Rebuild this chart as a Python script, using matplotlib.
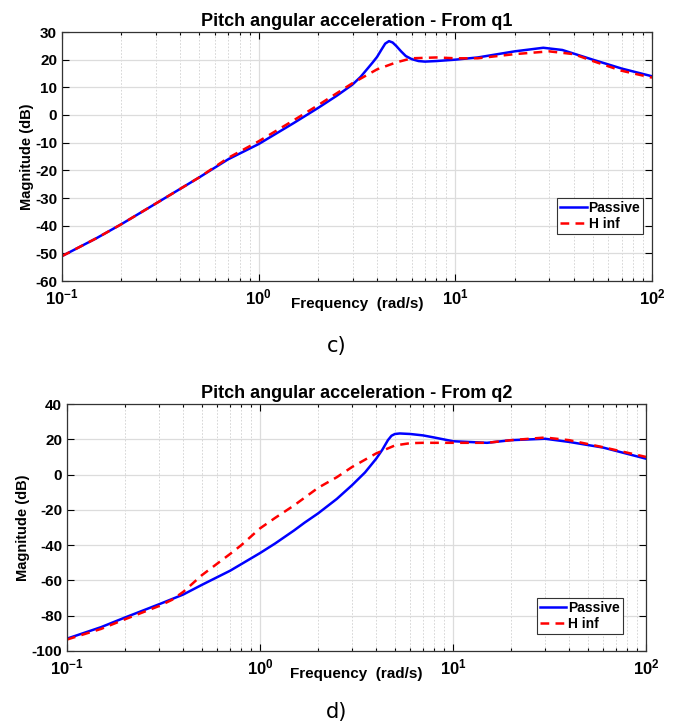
import numpy as np
import matplotlib
matplotlib.use("Agg")
import matplotlib.pyplot as plt
from matplotlib.ticker import LogLocator, NullFormatter, FuncFormatter

# --- donnees ---
freq_q1 = [0.1, 0.15, 0.2, 0.3, 0.5, 0.7, 1.0, 1.5, 2.0, 2.5, 3.0, 3.3, 3.6, 3.8, 4.0,
           4.2, 4.4, 4.6, 4.8, 5.0, 5.3, 5.6, 6.0, 6.5, 7.0, 8.0, 10, 13, 20, 28, 35, 50,
           70, 100]
passive_q1 = [-51, -44.5, -39.5, -32, -22.5, -16, -10.5, -3, 2.5, 7, 11, 13.8, 17, 19, 21,
              23.5, 25.8, 26.7, 26.2, 25, 23, 21.3, 20.2, 19.5, 19.3, 19.5, 20, 20.8, 23,
              24.3, 23.5, 20, 16.8, 14]
freq_hinf_q1 = [0.1, 0.15, 0.2, 0.3, 0.5, 0.7, 1.0, 1.5, 2.0, 3.0, 4.0, 5.0, 6.0, 8.0,
                10, 13, 20, 30, 40, 50, 70, 100]
hinf_q1 = [-51, -44.5, -39.5, -32, -22.5, -15.5, -9.5, -2, 3.5, 11.5, 16.5, 19, 20.5,
           20.8, 20.5, 20.5, 22, 23, 22, 19.5, 16, 13.5]

freq_q2 = [0.1, 0.15, 0.2, 0.3, 0.4, 0.5, 0.7, 1.0, 1.2, 1.5, 1.7, 2.0, 2.5, 3.0, 3.5,
           3.8, 4.0, 4.3, 4.6, 4.8, 5.0, 5.3, 6.0, 7.0, 8.0, 10, 15, 20, 30, 40, 60, 100]
passive_q2 = [-93, -86.5, -81, -73.5, -68, -62.5, -54.5, -44.5, -39, -31.7, -27.3, -22,
              -13.8, -6, 1.2, 6, 9, 14, 19.5, 22, 23, 23.3, 23, 22.2, 21, 18.9, 18, 19.5,
              20.3, 18.5, 15.3, 9]
freq_hinf_q2 = [0.1, 0.15, 0.2, 0.3, 0.35, 0.4, 0.45, 0.5, 0.6, 0.7, 0.8, 0.9, 1.0, 1.2,
                1.5, 2.0, 2.5, 3.0, 4.0, 5.0, 6.0, 7.0, 10, 15, 20, 30, 40, 60, 100]
hinf_q2 = [-93.5, -87.5, -82, -74.5, -71, -66.5, -61.5, -57, -50.5, -45, -40, -35,
           -30.5, -24.5, -17.5, -7.5, -1.5, 4.3, 12, 16.5, 17.8, 18, 18, 18, 19.5, 21,
           19.5, 15.5, 10]

titles = ["Pitch angular acceleration - From q1", "Pitch angular acceleration - From q2"]
ylims = [(-60, 30), (-100, 40)]
ysteps = [10, 20]
panel_labels = ["c)", "d)"]

plt.rcParams['font.family'] = ['Liberation Sans', 'DejaVu Sans']
plt.rcParams['axes.unicode_minus'] = False
plt.rcParams['mathtext.fontset'] = 'custom'
plt.rcParams['mathtext.rm'] = 'Liberation Sans:bold'
plt.rcParams['mathtext.bf'] = 'Liberation Sans:bold'
plt.rcParams['mathtext.default'] = 'bf'

fig = plt.figure(figsize=(6.75, 7.26), dpi=100)
W, H = 675.0, 726.0
# positions en pixels (gauche, droite, haut, bas)
boxes = [(62, 652, 32, 281), (67, 646, 404, 651)]

data = [(freq_q1, passive_q1, freq_hinf_q1, hinf_q1),
        (freq_q2, passive_q2, freq_hinf_q2, hinf_q2)]

dec_fmt = FuncFormatter(lambda v, pos: r'$10^{%d}$' % int(round(np.log10(v))))

for i, (l, r, t, b) in enumerate(boxes):
    ax = fig.add_axes([l / W, 1 - b / H, (r - l) / W, (b - t) / H])
    fp, p, fh, h = data[i]
    ax.semilogx(fp, p, color='#0000ff', lw=1.8, label='Passive')
    ax.semilogx(fh, h, color='#ff0000', lw=1.8, ls=(0, (3.5, 2.5)), label='H inf')
    ax.set_xlim(0.1, 100)
    ax.set_ylim(*ylims[i])
    ax.set_yticks(np.arange(ylims[i][0], ylims[i][1] + 1, ysteps[i]))
    ax.xaxis.set_major_locator(LogLocator(base=10, numticks=10))
    ax.xaxis.set_major_formatter(dec_fmt)
    ax.xaxis.set_minor_locator(LogLocator(base=10, subs=np.arange(2, 10), numticks=100))
    ax.xaxis.set_minor_formatter(NullFormatter())
    ax.grid(True, which='major', axis='both', color='#dcdcdc', lw=0.9)
    ax.grid(True, which='minor', axis='x', color='#d0d0d0', lw=0.6, ls=(0, (2, 2)))
    ax.set_axisbelow(True)
    ax.tick_params(which='both', direction='in', top=True, right=True, width=0.8)
    ax.tick_params(which='major', length=5, labelsize=11)
    ax.tick_params(which='minor', length=2.5)
    ax.tick_params(axis='x', which='major', pad=5, labelsize=12)
    for lab in ax.get_xticklabels() + ax.get_yticklabels():
        lab.set_fontweight('bold')
    for s in ax.spines.values():
        s.set_color('#333333')
        s.set_linewidth(0.9)
    ax.set_title(titles[i], fontsize=13, fontweight='bold', pad=4)
    ax.set_ylabel('Magnitude (dB)', fontsize=10.5, fontweight='bold', labelpad=1)
    ax.set_xlabel('Frequency  (rad/s)', fontsize=11, fontweight='bold', labelpad=-8)
    leg = ax.legend(loc='lower right', bbox_to_anchor=(0.985, 0.19) if i == 0 else (0.96, 0.07),
                    fancybox=False, framealpha=1, edgecolor='#333333',
                    prop={'weight': 'bold', 'size': 10}, handlelength=1.9,
                    handletextpad=0.15, borderpad=0.2, labelspacing=0.15, borderaxespad=0)
    leg.get_frame().set_linewidth(0.8)

fig.text(337 / W, 1 - 346 / H, panel_labels[0], ha='center', va='center', fontsize=15,
         family=['Liberation Sans Narrow', 'DejaVu Sans'])
fig.text(337 / W, 1 - 712 / H, panel_labels[1], ha='center', va='center', fontsize=15,
         family=['Liberation Sans Narrow', 'DejaVu Sans'])

fig.savefig("out.png", dpi=100)
